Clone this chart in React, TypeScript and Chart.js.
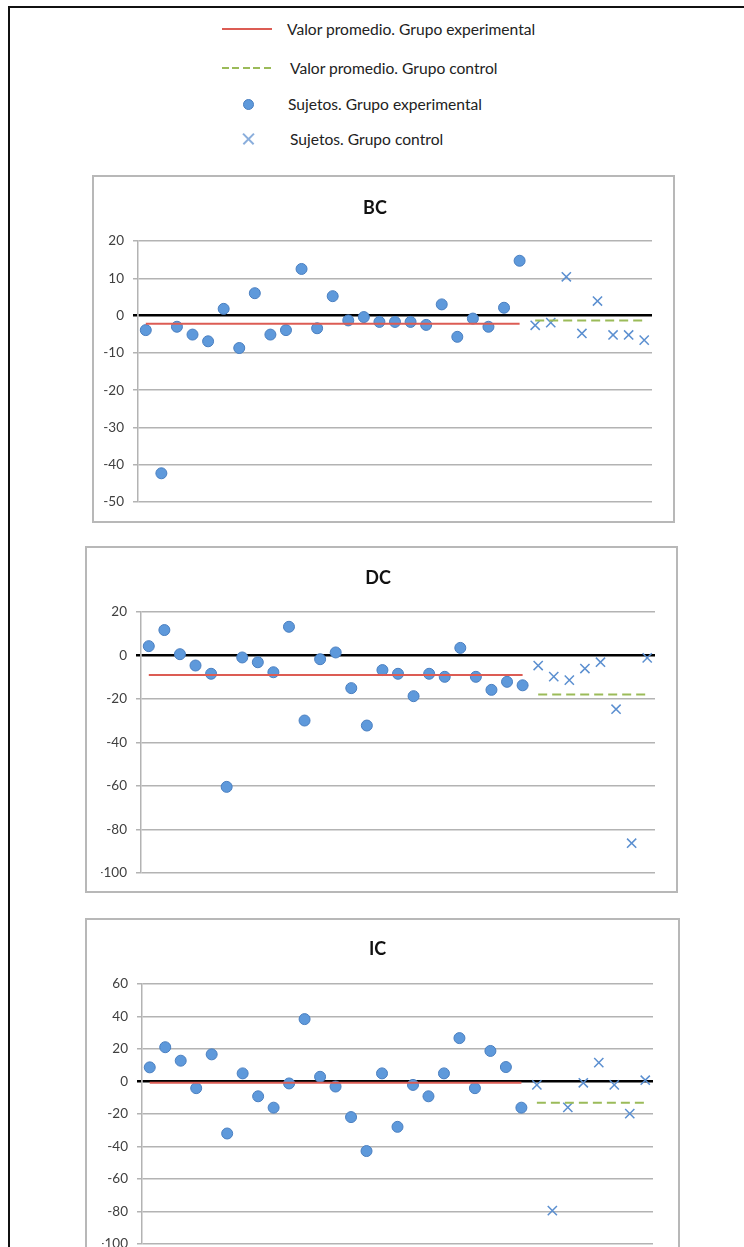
import React, { useEffect, useRef } from "react";
import { Chart, registerables } from "chart.js";

Chart.register(...registerables);

// ---------- DATA ----------
const bcExperimental = [-3.9, -42.3, -3.0, -5.1, -6.9, 1.8, -8.7, 6.0, -5.1, -3.9, 12.5, -3.4, 5.2, -1.3, -0.4, -1.7, -1.7, -1.7, -2.5, 3.0, -5.7, -0.8, -3.0, 2.1, 14.7];
const bcControl = [-2.6, -1.9, 10.4, -4.8, 3.9, -5.2, -5.2, -6.6];
const bcMeanExperimental = -2.2;
const bcMeanControl = -1.3;

const dcExperimental = [4.3, 11.7, 0.6, -4.6, -8.4, -60.4, -0.9, -3.1, -7.7, 13.2, -29.9, -1.7, 1.4, -15.0, -32.2, -6.7, -8.4, -18.7, -8.4, -9.8, 3.5, -9.8, -15.8, -12.1, -13.7];
const dcControl = [-4.6, -9.7, -11.3, -6.0, -3.1, -24.7, -86.3, -1.1];
const dcMeanExperimental = -9.0;
const dcMeanControl = -17.9;

const icExperimental = [8.7, 21.1, 12.8, -4.1, 16.7, -32.0, 5.0, -9.1, -16.1, -1.2, 38.4, 2.9, -3.1, -21.9, -42.8, 5.0, -27.9, -2.1, -9.1, 5.0, 26.7, -4.1, 18.8, 8.9, -16.1];
const icControl = [-2.1, -79.5, -15.9, -0.8, 11.6, -2.1, -19.8, 0.8];
const icMeanExperimental = -0.8;
const icMeanControl = -13.0;

const panelTitles = ["BC", "DC", "IC"];
const bcTicks = { min: -50, max: 20, step: 10 };
const dcTicks = { min: -100, max: 20, step: 20 };
const icTicks = { min: -100, max: 60, step: 20 };

const legendLabels = [
  "Valor promedio. Grupo experimental",
  "Valor promedio. Grupo control",
  "Sujetos. Grupo experimental",
  "Sujetos. Grupo control",
];

// ---------- STYLE ----------
const RED = "#dc5c54";
const GREEN = "#9bbb59";
const DOT_FILL = "#5e99db";
const DOT_BORDER = "#4a7fc0";
const CROSS = "#5b8fd0";
const GRID = "#b3b3b3";
const FONT = "Lato, 'Open Sans', sans-serif";

type Layout = {
  left: number; top: number; width: number; height: number;
  pad: { left: number; right: number; top: number; bottom: number };
  titlePadTop: number; titlePadBottom: number;
};

type PanelProps = {
  title: string;
  experimental: number[];
  control: number[];
  meanExp: number;
  meanCtrl: number;
  ticks: { min: number; max: number; step: number };
  layout: Layout;
};

function Panel({ title, experimental, control, meanExp, meanCtrl, ticks, layout }: PanelProps) {
  const ref = useRef<HTMLCanvasElement | null>(null);
  useEffect(() => {
    if (!ref.current) return;
    const nE = experimental.length;
    const nC = control.length;
    const chart = new Chart(ref.current, {
      type: "line",
      data: {
        datasets: [
          {
            data: [{ x: 1, y: meanExp }, { x: nE, y: meanExp }],
            borderColor: RED,
            borderWidth: 2,
            pointRadius: 0,
          },
          {
            data: [{ x: nE + 1, y: meanCtrl }, { x: nE + nC, y: meanCtrl }],
            borderColor: GREEN,
            borderWidth: 2,
            borderDash: [9, 5],
            pointRadius: 0,
          },
          {
            data: experimental.map((v, i) => ({ x: i + 1, y: v })),
            showLine: false,
            pointStyle: "circle",
            pointRadius: 5.5,
            pointBackgroundColor: DOT_FILL,
            pointBorderColor: DOT_BORDER,
            pointBorderWidth: 1,
          },
          {
            data: control.map((v, i) => ({ x: nE + i + 1, y: v })),
            showLine: false,
            pointStyle: "crossRot",
            pointRadius: 6.5,
            pointBorderColor: CROSS,
            pointBorderWidth: 1.5,
          },
        ] as any,
      },
      options: {
        animation: false,
        responsive: false,
        maintainAspectRatio: false,
        layout: { padding: layout.pad },
        plugins: {
          legend: { display: false },
          tooltip: { enabled: false },
          title: {
            display: true,
            text: title,
            color: "#111",
            font: { family: FONT, size: 18, weight: "bold" },
            padding: { top: layout.titlePadTop, bottom: layout.titlePadBottom },
          },
        },
        scales: {
          x: { type: "linear", min: 0.5, max: nE + nC + 0.5, display: false },
          y: {
            min: ticks.min,
            max: ticks.max,
            afterFit: (s: any) => { s.width = 40; },
            ticks: {
              stepSize: ticks.step,
              color: "#404040",
              font: { family: FONT, size: 13.5 },
              padding: 9,
            },
            grid: {
              drawTicks: true,
              tickLength: 5,
              color: (c: any) => (c.tick && c.tick.value === 0 ? "#000" : GRID),
              tickColor: (c: any) => (c.tick && c.tick.value === 0 ? "#000" : GRID),
              lineWidth: (c: any) => (c.tick && c.tick.value === 0 ? 2.5 : 1.5),
            },
            border: { display: true, color: GRID, width: 1.5 },
          },
        },
      } as any,
    });
    return () => chart.destroy();
  }, []);
  return (
    <div style={{ position: "absolute", left: layout.left, top: layout.top, width: layout.width, height: layout.height }}>
      <canvas ref={ref} width={layout.width} height={layout.height} style={{ position: "absolute", left: 0, top: 0, width: layout.width, height: layout.height }} />
      <div style={{ position: "absolute", left: 0, top: 0, width: layout.width, height: layout.height, boxSizing: "border-box", border: "2px solid #b8b8b8", pointerEvents: "none" }} />
    </div>
  );
}

const bcLayout: Layout = { left: 92, top: 175, width: 583, height: 348, pad: { left: 6, right: 23, top: 10, bottom: 21 }, titlePadTop: 12, titlePadBottom: 22.4 };
const dcLayout: Layout = { left: 85, top: 546, width: 593, height: 347, pad: { left: 16, right: 23, top: 9, bottom: 20 }, titlePadTop: 12, titlePadBottom: 23.4 };
const icLayout: Layout = { left: 85, top: 918, width: 595, height: 345, pad: { left: 17, right: 27, top: 8, bottom: 19 }, titlePadTop: 12, titlePadBottom: 24.4 };

function LegendSymbol({ kind }: { kind: number }) {
  if (kind === 0) return <div style={{ position: "absolute", left: 222, width: 50, top: -1, height: 2, background: RED }} />;
  if (kind === 1)
    return <div style={{ position: "absolute", left: 222, width: 50, top: -1, height: 2, background: `repeating-linear-gradient(90deg, ${GREEN} 0 7px, transparent 7px 10.5px)` }} />;
  if (kind === 2)
    return <div style={{ position: "absolute", left: 243, width: 11, top: -5.5, height: 11, borderRadius: "50%", background: DOT_FILL, boxSizing: "border-box", border: `1px solid ${DOT_BORDER}` }} />;
  return (
    <>
      <div style={{ position: "absolute", left: 241, width: 15, top: -0.75, height: 1.5, background: "#8aaedc", transform: "rotate(45deg)" }} />
      <div style={{ position: "absolute", left: 241, width: 15, top: -0.75, height: 1.5, background: "#8aaedc", transform: "rotate(-45deg)" }} />
    </>
  );
}

const legendRowY = [29, 68, 104, 139];
const legendTextX = [287, 290, 288, 290];

export default function App() {
  return (
    <div style={{ position: "fixed", left: 0, top: 0, width: 744, height: 1247, overflow: "hidden", background: "#fff" }}>
      <div style={{ position: "absolute", left: 8, top: 6, width: 900, height: 1400, border: "2px solid #111" }} />
      {legendLabels.map((t, i) => (
        <div key={t} style={{ position: "absolute", left: 0, top: legendRowY[i], width: 744, height: 0 }}>
          <LegendSymbol kind={i} />
          <div style={{ position: "absolute", left: legendTextX[i], top: -10, height: 20, lineHeight: "20px", fontFamily: FONT, fontSize: 15.6, color: "#222", whiteSpace: "nowrap" }}>{t}</div>
        </div>
      ))}
      <Panel title={panelTitles[0]} experimental={bcExperimental} control={bcControl} meanExp={bcMeanExperimental} meanCtrl={bcMeanControl} ticks={bcTicks} layout={bcLayout} />
      <Panel title={panelTitles[1]} experimental={dcExperimental} control={dcControl} meanExp={dcMeanExperimental} meanCtrl={dcMeanControl} ticks={dcTicks} layout={dcLayout} />
      <Panel title={panelTitles[2]} experimental={icExperimental} control={icControl} meanExp={icMeanExperimental} meanCtrl={icMeanControl} ticks={icTicks} layout={icLayout} />
    </div>
  );
}
